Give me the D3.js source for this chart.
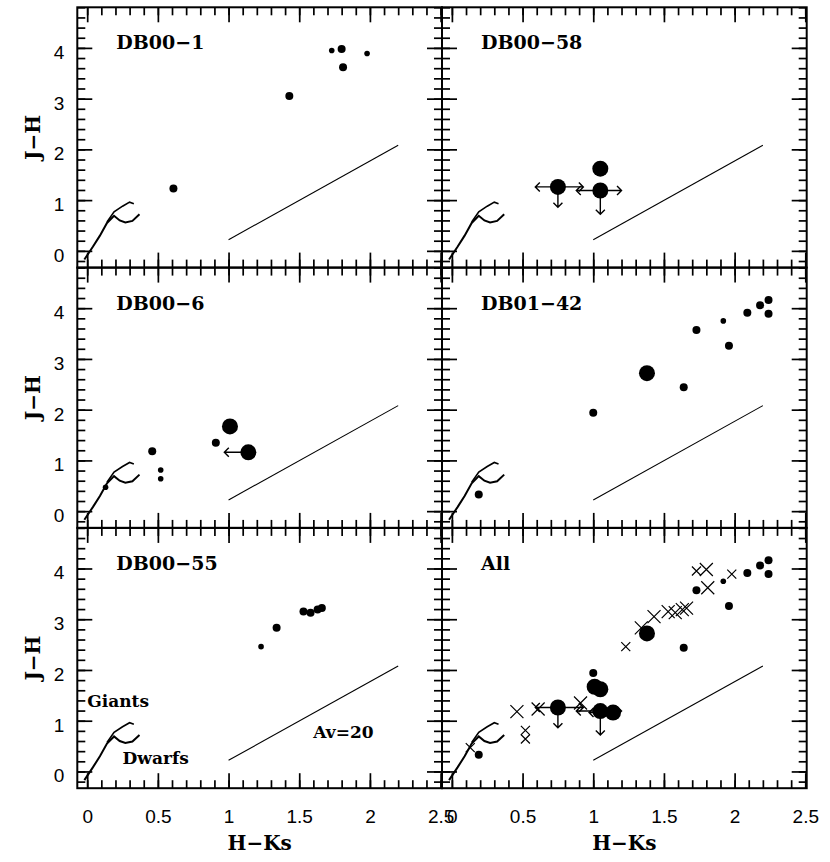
<!DOCTYPE html>
<html>
<head>
<meta charset="utf-8">
<script src="https://cdn.jsdelivr.net/npm/d3@7"></script>
<style>
  body { margin: 0; background: #fff; }
  svg { display: block; background: #fff; }
</style>
</head>
<body>
<svg id="chart" width="830" height="862"></svg>
<script>
// J-H vs H-Ks colour-colour diagrams, six panels.
// Every point: [H-Ks, J-H, symbol size class]

const db00_1 = [
  [0.61, 1.23, "m"], [1.43, 3.05, "m"], [1.73, 3.95, "s"],
  [1.80, 3.98, "m"], [1.81, 3.62, "m"], [1.98, 3.89, "s"],
];
const db00_58 = [
  [0.75, 1.26, "l"], [1.05, 1.62, "l"], [1.05, 1.19, "l"],
];
// upper limits: horizontal range [xlo, xhi] and lower bound on J-H
const db00_58Limits = [
  { x: 0.75, y: 1.26, xlo: 0.59, xhi: 0.93, ylo: 0.86 },
  { x: 1.05, y: 1.19, xlo: 0.88, xhi: 1.20, ylo: 0.72 },
];
const db00_6 = [
  [0.13, 0.47, "s"], [0.46, 1.18, "m"], [0.52, 0.81, "s"], [0.52, 0.64, "s"],
  [0.91, 1.35, "m"], [1.01, 1.67, "l"], [1.14, 1.16, "l"],
];
const db00_6Limits = [
  { x: 1.14, y: 1.16, xlo: 0.97 },
];
const db01_42 = [
  [0.19, 0.33, "m"], [1.00, 1.94, "m"], [1.38, 2.72, "l"], [1.64, 2.44, "m"],
  [1.73, 3.57, "m"], [1.92, 3.75, "s"], [1.96, 3.26, "m"], [2.09, 3.91, "m"],
  [2.18, 4.06, "m"], [2.24, 4.16, "m"], [2.24, 3.89, "m"],
];
const db00_55 = [
  [1.23, 2.46, "s"], [1.34, 2.83, "m"], [1.53, 3.15, "m"],
  [1.58, 3.13, "m"], [1.63, 3.19, "m"], [1.66, 3.22, "m"],
];

// intrinsic colours of dwarfs and giants, and the Av=20 reddening vector
const dwarfs = [
  [-0.02, -0.17], [0.04, 0.08], [0.09, 0.30], [0.14, 0.55], [0.19, 0.69],
  [0.23, 0.60], [0.27, 0.56], [0.32, 0.59], [0.37, 0.72],
];
const giants = [
  [0.14, 0.57], [0.19, 0.77], [0.25, 0.88], [0.30, 0.96], [0.33, 0.93],
];
const reddening = [[1.0, 0.22], [2.2, 2.08]];

const xTicks = [0, 0.5, 1, 1.5, 2, 2.5];
const yTicks = [0, 1, 2, 3, 4];

const panels = [
  { name: "DB00\u22121", dots: db00_1, crosses: [], limits: [] },
  { name: "DB00\u221258", dots: db00_58, crosses: [], limits: db00_58Limits },
  { name: "DB00\u22126", dots: db00_6, crosses: [], limits: db00_6Limits },
  { name: "DB01\u221242", dots: db01_42, crosses: [], limits: [] },
  { name: "DB00\u221255", dots: db00_55, crosses: [], limits: [], notes: true },
  {
    name: "All",
    dots: [...db00_58, ...db01_42, ...db00_6.filter(d => d[2] === "l")],
    crosses: [...db00_1, ...db00_55, ...db00_6.filter(d => d[2] !== "l")],
    limits: [...db00_58Limits, ...db00_6Limits],
  },
];

const CONFIG = {
  left: 77.3,
  top: 7.3,
  panelW: 364.7,
  panelH: 260.3,
  xDomain: [-0.07, 2.51],
  yDomain: [-0.33, 4.8],
  majorTick: 15,
  minorTick: 8,
  dotR: { s: 2.8, m: 4, l: 8 },
  crossR: { s: 4.5, m: 6.5, l: 7 },
  serif: "'DejaVu Serif', serif",
  sans: "'Liberation Sans', sans-serif",
};

const svg = d3.select("#chart");

const xMinor = d3.range(0, 2.51, 0.1).map(v => +v.toFixed(2));
const yMinor = d3.range(-0.2, 4.81, 0.2).map(v => +v.toFixed(2));

panels.forEach((p, i) => {
  const col = i % 2;
  const row = Math.floor(i / 2);
  const x0 = CONFIG.left + col * CONFIG.panelW;
  const y0 = CONFIG.top + row * CONFIG.panelH;

  const x = d3.scaleLinear().domain(CONFIG.xDomain).range([x0, x0 + CONFIG.panelW]);
  const y = d3.scaleLinear().domain(CONFIG.yDomain).range([y0 + CONFIG.panelH, y0]);

  const g = svg.append("g");

  // ticks on all four sides, pointing inward
  const sides = [
    [d3.axisBottom(x), y0 + CONFIG.panelH, xTicks, xMinor, "y"],
    [d3.axisTop(x), y0, xTicks, xMinor, "y"],
    [d3.axisLeft(y), x0, yTicks, yMinor, "x"],
    [d3.axisRight(y), x0 + CONFIG.panelW, yTicks, yMinor, "x"],
  ];
  sides.forEach(([axis, pos, major, minor, dir]) => {
    [[minor, CONFIG.minorTick], [major, CONFIG.majorTick]].forEach(([vals, len]) => {
      const a = g.append("g")
        .attr("transform", dir === "y" ? `translate(0,${pos})` : `translate(${pos},0)`)
        .call(axis.tickValues(vals).tickSize(-len).tickFormat(""));
      a.select(".domain").remove();
      a.selectAll("line").attr("stroke", "#000").attr("stroke-width", 1.7);
    });
  });

  // frame
  g.append("rect")
    .attr("x", x0).attr("y", y0)
    .attr("width", CONFIG.panelW).attr("height", CONFIG.panelH)
    .attr("fill", "none").attr("stroke", "#000").attr("stroke-width", 2);

  // tick labels on outer panels only
  if (col === 0) {
    const ax = g.append("g")
      .attr("transform", `translate(${x0},0)`)
      .call(d3.axisLeft(y).tickValues(yTicks).tickSize(0).tickPadding(13).tickFormat(d3.format("d")));
    ax.select(".domain").remove();
    ax.attr("font-family", CONFIG.sans).attr("font-size", 19);
    ax.selectAll("text").attr("dy", "0.55em").attr("fill", "#000");

    g.append("text")
      .attr("transform", `translate(40,${y0 + CONFIG.panelH / 2}) rotate(-90)`)
      .attr("text-anchor", "middle")
      .style("font-family", CONFIG.serif)
      .style("font-weight", "bold")
      .style("font-size", "20px")
      .text("J\u2212H");
  }
  if (row === 2) {
    const ax = g.append("g")
      .attr("transform", `translate(0,${y0 + CONFIG.panelH})`)
      .call(d3.axisBottom(x).tickValues(xTicks).tickSize(0).tickPadding(21).tickFormat(d => String(d)));
    ax.select(".domain").remove();
    ax.attr("font-family", CONFIG.sans).attr("font-size", 19);
    ax.selectAll("text").attr("fill", "#000");

    g.append("text")
      .attr("x", x0 + CONFIG.panelW / 2)
      .attr("y", 850)
      .attr("text-anchor", "middle")
      .style("font-family", CONFIG.serif)
      .style("font-weight", "bold")
      .style("font-size", "20px")
      .text("H\u2212Ks");
  }

  // panel name
  g.append("text")
    .attr("x", x0 + 39)
    .attr("y", y0 + 42)
    .style("font-family", CONFIG.serif)
    .style("font-weight", "bold")
    .style("font-size", "19px")
    .text(p.name);

  // dwarf / giant sequences and reddening vector
  const line = d3.line().x(d => x(d[0])).y(d => y(d[1]));
  g.append("path").attr("d", line(dwarfs))
    .attr("fill", "none").attr("stroke", "#000").attr("stroke-width", 2);
  g.append("path").attr("d", line(giants))
    .attr("fill", "none").attr("stroke", "#000").attr("stroke-width", 1.6);
  g.append("path").attr("d", line(reddening))
    .attr("fill", "none").attr("stroke", "#000").attr("stroke-width", 1.1);

  if (p.notes) {
    const notes = [["Giants", 0.0, 1.28], ["Dwarfs", 0.25, 0.14], ["Av=20", 1.6, 0.66]];
    g.selectAll(".note")
      .data(notes)
      .enter()
      .append("text")
      .attr("x", d => x(d[1]))
      .attr("y", d => y(d[2]))
      .style("font-family", CONFIG.serif)
      .style("font-weight", "bold")
      .style("font-size", "17px")
      .text(d => d[0]);
  }

  // limit arrows
  const head = 4.5;
  p.limits.forEach(l => {
    const cx = x(l.x), cy = y(l.y);
    let d = "";
    if (l.xlo !== undefined) {
      const xl = x(l.xlo);
      d += `M${cx},${cy}L${xl},${cy}M${xl + head},${cy - head}L${xl},${cy}L${xl + head},${cy + head}`;
    }
    if (l.xhi !== undefined) {
      const xh = x(l.xhi);
      d += `M${cx},${cy}L${xh},${cy}M${xh - head},${cy - head}L${xh},${cy}L${xh - head},${cy + head}`;
    }
    if (l.ylo !== undefined) {
      const yl = y(l.ylo);
      d += `M${cx},${cy}L${cx},${yl}M${cx - head},${yl - head}L${cx},${yl}L${cx + head},${yl - head}`;
    }
    g.append("path").attr("d", d)
      .attr("fill", "none").attr("stroke", "#000").attr("stroke-width", 1.4);
  });

  // crosses
  g.selectAll(".cross")
    .data(p.crosses)
    .enter()
    .append("path")
    .attr("class", "cross")
    .attr("d", d => {
      const cx = x(d[0]), cy = y(d[1]), r = CONFIG.crossR[d[2]];
      return `M${cx - r},${cy - r}L${cx + r},${cy + r}M${cx - r},${cy + r}L${cx + r},${cy - r}`;
    })
    .attr("stroke", "#000")
    .attr("stroke-width", 1.2);

  // filled dots
  g.selectAll(".dot")
    .data(p.dots)
    .enter()
    .append("circle")
    .attr("class", "dot")
    .attr("cx", d => x(d[0]))
    .attr("cy", d => y(d[1]))
    .attr("r", d => CONFIG.dotR[d[2]])
    .attr("fill", "#000");
});
</script>
</body>
</html>
